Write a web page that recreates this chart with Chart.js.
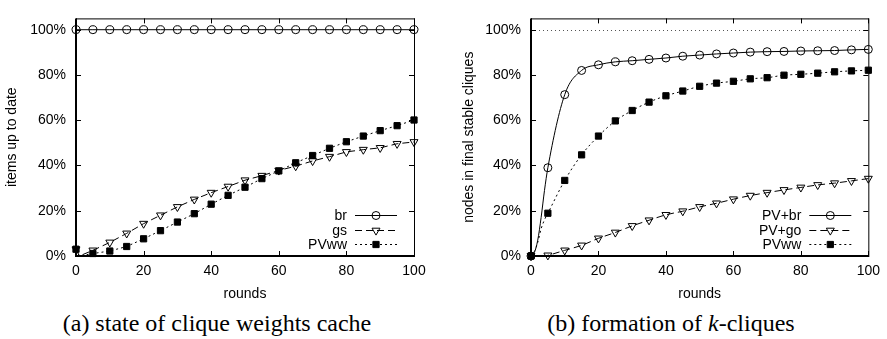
<!DOCTYPE html>
<html>
<head>
<meta charset="utf-8">
<script src="https://cdn.jsdelivr.net/npm/chart.js@4.4.0/dist/chart.umd.min.js"></script>
<style>
  body { margin: 0; background: #fff; width: 887px; height: 339px; position: relative; overflow: hidden; }
  .panel { position: absolute; top: 0; }
  .caption {
    position: absolute; top: 311px; line-height: 24px; white-space: nowrap;
    font-family: 'Liberation Serif', 'Times New Roman', serif; font-size: 24px; color: #000;
    transform: translateX(-50%);
  }
</style>
</head>
<body>
<div class="panel" style="left:0"><canvas id="cacheChart" width="440" height="305"></canvas></div>
<div class="panel" style="left:457px"><canvas id="cliqueChart" width="430" height="305"></canvas></div>
<div class="caption" style="left:217px">(a) state of clique weights cache</div>
<div class="caption" style="left:671px">(b) formation of <i>k</i>-cliques</div>

<script>
// (a) clique weights cache, % of items up to date per round
const cacheRounds = [0, 1, 5, 10, 15, 20, 25, 30, 35, 40, 45, 50, 55, 60, 65, 70, 75, 80, 85, 90, 95, 100];
const cacheBr   = [100, 100, 100, 100, 100, 100, 100, 100, 100, 100, 100, 100, 100, 100, 100, 100, 100, 100, 100, 100, 100, 100];
const cacheGs   = [3, 0, 2.5, 6, 10, 14.3, 18, 21.7, 25, 28, 30.7, 33.5, 35.5, 37.8, 39.7, 42, 43.9, 46, 47, 47.8, 49.6, 50.4];
const cachePVww = [3, 0, 1.1, 2.2, 4.2, 7.6, 11.2, 15, 18.7, 22.9, 26.8, 30.4, 34.2, 37.6, 41.2, 44.4, 47.6, 50.5, 53, 55.4, 57.6, 60.1];

// (b) formation of k-cliques, % of nodes in final stable cliques per round
const cliqueRounds = [0, 1, 2, 3, 4, 5, 10, 15, 20, 25, 30, 35, 40, 45, 50, 55, 60, 65, 70, 75, 80, 85, 90, 95, 100];
const cliquePVbr = [0, 1.5, 7, 17, 29, 39, 71.3, 82, 84.5, 85.8, 86.3, 86.9, 87.5, 88.3, 88.8, 89.3, 89.7, 90.1, 90.3, 90.4, 90.6, 90.7, 90.8, 91.1, 91.3];
const cliquePVgo = [0, 0, 0, 0, 0, 0.3, 2.5, 4.7, 7.8, 10.4, 13.3, 15.8, 18.2, 19.8, 21.7, 23.3, 25.1, 26.7, 28, 29.2, 30.3, 31.4, 32.2, 33.2, 34.2];
const cliquePVww = [0, 2, 6, 12, 16, 18.9, 33.4, 44.7, 53, 59.7, 64.3, 68, 70.8, 72.9, 75, 76.4, 77.2, 78.3, 78.8, 79.9, 80.3, 80.8, 81.4, 81.8, 82.1];

const yTicks = [0, 20, 40, 60, 80, 100];
const xTicks = [0, 20, 40, 60, 80, 100];

const sansFont = "'Liberation Sans', Arial, Helvetica, sans-serif";

function toPoints(xs, ys) {
    return xs.map((x, i) => ({ x: x, y: ys[i] }));
}

// markers only every 5 rounds, like the plotted samples
function markerSize(r) {
    return ctx => (ctx.raw && ctx.raw.x % 5 === 0 ? r : 0);
}

const styles = {
    circle:   { pointStyle: 'circle',   rotation: 0,   radius: 4,   fill: 'rgba(0,0,0,0)', dash: [] },
    triangle: { pointStyle: 'triangle', rotation: 180, radius: 4.6, fill: 'rgba(0,0,0,0)', dash: [7, 4] },
    square:   { pointStyle: 'rect',     rotation: 0,   radius: 4.4, fill: '#000',          dash: [2, 3] }
};

function makeDataset(label, xs, ys, style, smooth) {
    return {
        label: label,
        data: toPoints(xs, ys),
        borderColor: '#000',
        borderWidth: 1,
        borderDash: style.dash,
        pointStyle: style.pointStyle,
        rotation: style.rotation,
        pointRadius: markerSize(style.radius),
        pointBackgroundColor: style.fill,
        pointBorderColor: '#000',
        pointBorderWidth: 1,
        tension: 0,
        cubicInterpolationMode: smooth ? 'monotone' : 'default',
        clip: false,
        keyStyle: style
    };
}

// gnuplot-like box with inward ticks on all four sides
const framePlugin = {
    id: 'frame',
    beforeDatasetsDraw(chart, args, opts) {
        const { ctx, chartArea: a, scales } = chart;
        ctx.save();
        if (opts.refLine !== undefined) {
            const y = Math.round(scales.y.getPixelForValue(opts.refLine)) + 0.5;
            ctx.strokeStyle = '#555';
            ctx.lineWidth = 1;
            ctx.setLineDash([1, 3]);
            ctx.beginPath();
            ctx.moveTo(a.left, y);
            ctx.lineTo(a.right, y);
            ctx.stroke();
            ctx.setLineDash([]);
        }
        ctx.strokeStyle = '#000';
        ctx.lineWidth = 1;
        ctx.strokeRect(a.left + 0.5, a.top + 0.5, a.right - a.left, a.bottom - a.top);
        ctx.lineWidth = 2;
        ctx.beginPath();
        ctx.moveTo(a.left, a.top);
        ctx.lineTo(a.left, a.bottom);
        ctx.lineTo(a.right, a.bottom);
        ctx.stroke();
        ctx.lineWidth = 1;
        ctx.beginPath();
        scales.x.ticks.forEach(t => {
            const x = Math.round(scales.x.getPixelForValue(t.value)) + 0.5;
            ctx.moveTo(x, a.bottom); ctx.lineTo(x, a.bottom - 5);
            ctx.moveTo(x, a.top); ctx.lineTo(x, a.top + 5);
        });
        scales.y.ticks.forEach(t => {
            const y = Math.round(scales.y.getPixelForValue(t.value)) + 0.5;
            ctx.moveTo(a.left, y); ctx.lineTo(a.left + 5, y);
            ctx.moveTo(a.right, y); ctx.lineTo(a.right - 5, y);
        });
        ctx.stroke();
        ctx.restore();
    }
};

// key in the lower right corner: right-aligned label, then line sample with marker
const keyPlugin = {
    id: 'key',
    afterDatasetsDraw(chart) {
        const { ctx, chartArea: a } = chart;
        const rows = [a.bottom - 41, a.bottom - 26.5, a.bottom - 12];
        ctx.save();
        ctx.font = '14px ' + sansFont;
        ctx.textAlign = 'right';
        ctx.textBaseline = 'middle';
        chart.data.datasets.forEach((ds, i) => {
            const y = Math.round(rows[i]) + 0.5;
            const s = ds.keyStyle;
            ctx.fillStyle = '#000';
            ctx.fillText(ds.label, a.right - 67, y + 1);
            ctx.strokeStyle = '#000';
            ctx.lineWidth = 1;
            ctx.setLineDash(s.dash);
            ctx.beginPath();
            ctx.moveTo(a.right - 59, y);
            ctx.lineTo(a.right - 17, y);
            ctx.stroke();
            ctx.setLineDash([]);
            ctx.fillStyle = s.fill;
            Chart.helpers.drawPoint(ctx, {
                pointStyle: s.pointStyle, rotation: s.rotation, radius: s.radius, borderWidth: 1
            }, a.right - 38, y);
        });
        ctx.restore();
    }
};

function makeOptions(yTitle, axisWidth, rightPad, refLine) {
    return {
        responsive: false,
        animation: false,
        layout: { padding: { top: 5, right: rightPad, left: 0, bottom: 0 } },
        plugins: {
            legend: { display: false },
            tooltip: { enabled: false },
            frame: { refLine: refLine }
        },
        scales: {
            x: {
                type: 'linear',
                min: 0,
                max: 100,
                afterBuildTicks: s => { s.ticks = xTicks.map(v => ({ value: v })); },
                afterFit: s => { s.height = 49; },
                grid: { display: false, drawTicks: false },
                border: { display: false },
                ticks: { color: '#000', padding: 7, font: { family: sansFont, size: 14 }, maxRotation: 0 },
                title: { display: true, text: 'rounds', color: '#000', padding: { top: 0, bottom: 2 },
                         font: { family: sansFont, size: 14 } }
            },
            y: {
                min: 0,
                max: 105,
                afterBuildTicks: s => { s.ticks = yTicks.map(v => ({ value: v })); },
                afterFit: s => { s.width = axisWidth; },
                grid: { display: false, drawTicks: false },
                border: { display: false },
                ticks: { color: '#000', padding: 10, font: { family: sansFont, size: 14 },
                         callback: v => v + '%' },
                title: { display: true, text: yTitle, color: '#000', padding: { top: 4, bottom: 0 },
                         font: { family: sansFont, size: 14 } }
            }
        }
    };
}

new Chart(document.getElementById('cacheChart'), {
    type: 'line',
    data: {
        datasets: [
            makeDataset('br', cacheRounds, cacheBr, styles.circle, false),
            makeDataset('gs', cacheRounds, cacheGs, styles.triangle, false),
            makeDataset('PVww', cacheRounds, cachePVww, styles.square, false)
        ]
    },
    options: makeOptions('items up to date', 76, 26),
    plugins: [framePlugin, keyPlugin]
});

new Chart(document.getElementById('cliqueChart'), {
    type: 'line',
    data: {
        datasets: [
            makeDataset('PV+br', cliqueRounds, cliquePVbr, styles.circle, true),
            makeDataset('PV+go', cliqueRounds, cliquePVgo, styles.triangle, true),
            makeDataset('PVww', cliqueRounds, cliquePVww, styles.square, true)
        ]
    },
    options: makeOptions('nodes in final stable cliques', 74, 17, 100),
    plugins: [framePlugin, keyPlugin]
});
</script>
</body>
</html>
